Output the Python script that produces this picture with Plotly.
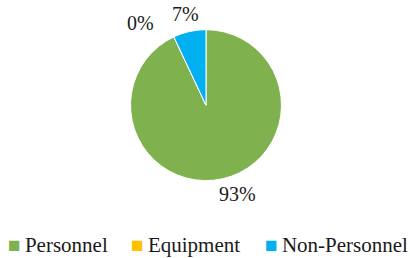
import math
import plotly.graph_objects as go

categories = ["Personnel", "Equipment", "Non-Personnel"]
values = [93, 0, 7]
text_labels = ["93%", "0%", "7%"]
colors = ["#7FB24E", "#FFC000", "#00B0F0"]

W, H = 410, 258
FONT = "Liberation Serif"
TXT = "#1a1a1a"
# pie geometry (style)
dom_x = [0.0049, 1.0]
dom_y = [0.30, 0.885]
label_dist_px = 93
label_nudge_px = [(11, -2), (-26, 2), (0, 0)]
# legend entry left edges (px) and vertical centre (style)
legend_x_px = [6, 129, 263]
legend_y_px = 245

fig = go.Figure(go.Pie(
    labels=categories,
    values=values,
    textinfo="none",
    sort=False,
    direction="clockwise",
    rotation=0,
    marker=dict(colors=colors, line=dict(color="white", width=1)),
    domain=dict(x=dom_x, y=dom_y),
    showlegend=False,
    hoverinfo="label+percent",
))

# percentage labels at the slice mid-angles (computed from the values)
cx = (dom_x[0] + dom_x[1]) / 2 * W
cy = (1 - (dom_y[0] + dom_y[1]) / 2) * H
total = sum(values)
cum = 0.0
for v, t, (nx, ny) in zip(values, text_labels, label_nudge_px):
    mid = (cum + v / 2) / total * 2 * math.pi
    cum += v
    px = cx + label_dist_px * math.sin(mid) + nx
    py = cy - label_dist_px * math.cos(mid) + ny
    fig.add_annotation(
        x=px / W, y=1 - py / H, xref="paper", yref="paper",
        text=t, showarrow=False, xanchor="center", yanchor="middle",
        font=dict(family=FONT, size=20, color=TXT),
    )

# legend row (coloured square glyph + category name)
for cat, col, lx in zip(categories, colors, legend_x_px):
    fig.add_annotation(
        x=lx / W, y=1 - legend_y_px / H, xref="paper", yref="paper",
        text=f"<span style='color:{col};font-size:21px'>■</span>\u2009{cat}",
        showarrow=False, xanchor="left", yanchor="middle",
        font=dict(family=FONT, size=21, color=TXT),
    )

fig.update_layout(
    width=W, height=H,
    margin=dict(l=0, r=0, t=0, b=0),
    paper_bgcolor="white",
    plot_bgcolor="white",
    font=dict(family=FONT, size=20, color=TXT),
    showlegend=False,
)

fig.write_html("out.html", config={"displayModeBar": False},
               post_script="document.body.style.margin='0';")
